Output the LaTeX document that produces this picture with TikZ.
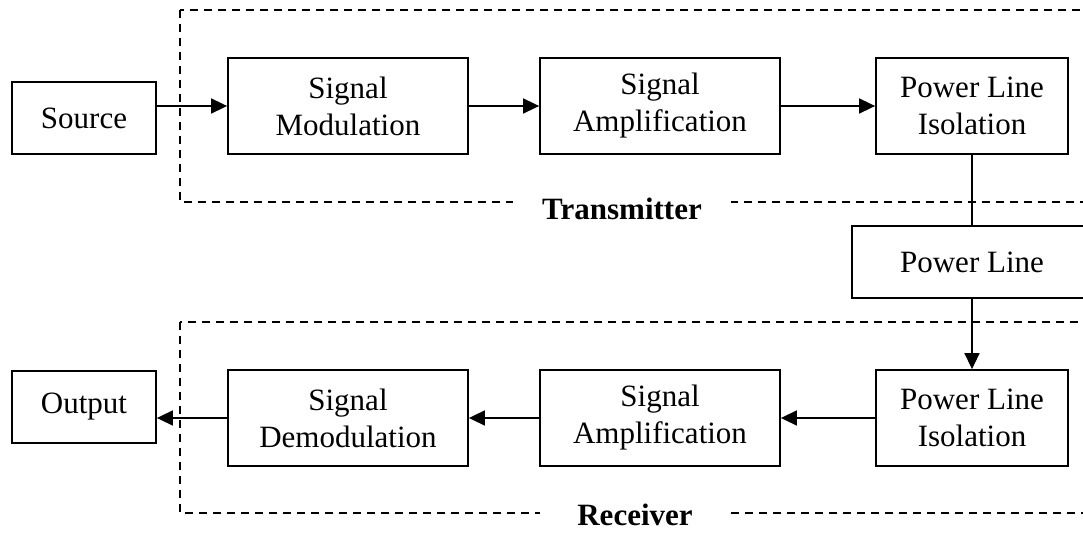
\documentclass[tikz,border=0pt]{standalone}
\usepackage{fontspec}
\setmainfont{Liberation Serif}
\usepackage{tikz}
\usetikzlibrary{arrows.meta,positioning}

\begin{document}
\begin{tikzpicture}[
  x=1pt, y=1pt,
  box/.style={draw, line width=1.8pt, minimum width=240pt,
              minimum height=96pt, inner sep=0pt, align=center,
              font=\fontsize{31}{37}\selectfont},
  small/.style={box, minimum width=144pt, minimum height=72pt},
  iso/.style={box, minimum width=192pt},
  group/.style={draw, line width=1.8pt, dash pattern=on 8pt off 6pt},
  grouplabel/.style={fill=white, anchor=base, inner ysep=1pt,
              font=\fontsize{31}{37}\selectfont\bfseries},
  link/.style={line width=1.6pt},
  >={Triangle[length=16pt,width=15pt]},
]
  \clip (0,0) rectangle (1083,533);

  % dashed groups
  \draw[group] (180,523) rectangle (1110,331);
  \draw[group] (180,211) rectangle (1110,20);
  \node[grouplabel, inner xsep=29pt] (tx) at (622,313) {Transmitter};
  \node[grouplabel, inner xsep=37pt] (rx) at (635,8) {Receiver};

  % transmitter chain
  \node[small] (src) at (84,415) {Source};
  \node[box] (mod) at (348,427) {Signal\\Modulation};
  \node[box] (amp) at (660,427) {Signal\\Amplification};
  \node[iso] (iso) at (972,427) {Power Line\\Isolation};

  \node[box, minimum height=72pt] (pl) at (972,271) {Power Line};

  % receiver chain
  \node[iso] (iso2) at (972,115) {Power Line\\Isolation};
  \node[box] (amp2) at (660,115) {Signal\\Amplification};
  \node[box] (demod) at (348,115) {Signal\\Demodulation};
  \node[small] (out) at (84,126) {Output};

  \draw[link, ->] (src.east |- mod.west) -- (mod.west);
  \draw[link, ->] (mod) -- (amp);
  \draw[link, ->] (amp) -- (iso);
  \draw[link] (iso) -- (pl);
  \draw[link, ->] (pl) -- (iso2);
  \draw[link, ->] (iso2) -- (amp2);
  \draw[link, ->] (amp2) -- (demod);
  \draw[link, ->] (demod.west) -- (out.east |- demod.west);
\end{tikzpicture}
\end{document}
